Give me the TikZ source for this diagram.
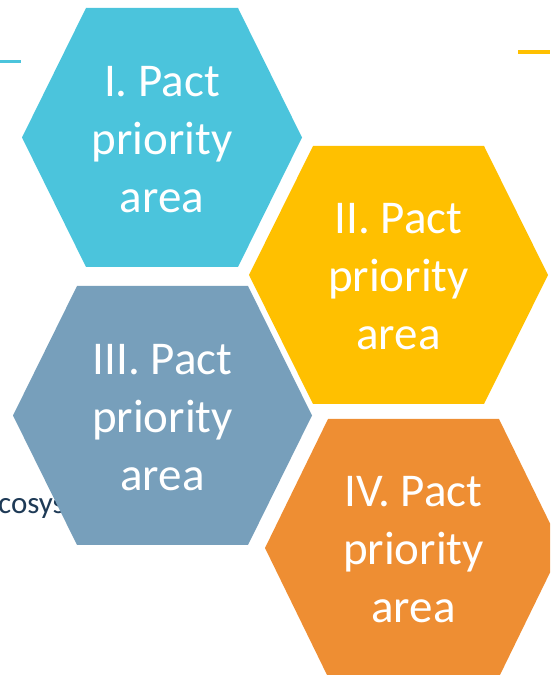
\documentclass[tikz,border=0pt]{standalone}
\usepackage{fontspec}
\setmainfont{Carlito}
\definecolor{hexcyan}{HTML}{4BC4DC}
\definecolor{hexyellow}{HTML}{FFC000}
\definecolor{hexblue}{HTML}{779FBB}
\definecolor{hexorange}{HTML}{EE8E33}
\definecolor{darktext}{HTML}{1E3A56}
\tikzset{
  hextext/.style={text=white, align=center, font=\fontsize{47}{58}\selectfont, inner sep=0pt},
  accentline/.style={line width=3.2pt, line cap=butt}
}
\begin{document}
\begin{tikzpicture}[x=1pt,y=1pt]
\useasboundingbox (0,0) rectangle (550,675);
\clip (0,0) rectangle (550,675);
% accent lines (y measured from top)
\coordinate (c1a) at (0,{675-61.5});
\coordinate (c1b) at (21,{675-61.5});
\draw[accentline, hexcyan] (c1a) -- (c1b);
\coordinate (c2a) at (518,{675-52});
\coordinate (c2b) at (550,{675-52});
\draw[accentline, hexyellow] (c2a) -- (c2b);
% partially hidden body text
\node[anchor=base west, inner sep=0pt, text=darktext, font=\fontsize{31}{37}\selectfont] (eco) at (-2,{675-514}) {cosystem};
% hexagon I
\fill[hexcyan] (22,{675-137.5}) -- (86,{675-8}) -- (238,{675-8}) -- (302,{675-137.5}) -- (238,{675-267}) -- (86,{675-267}) -- cycle;
\node[hextext] (h1) at (162,{675-139.5}) {I. Pact\\priority\\area};
% hexagon II
\fill[hexyellow] (249,{675-275}) -- (313,{675-146}) -- (484,{675-146}) -- (548,{675-275}) -- (484,{675-404}) -- (313,{675-404}) -- cycle;
\node[hextext] (h2) at (398.5,{675-277}) {II. Pact\\priority\\area};
% hexagon III
\fill[hexblue] (13,{675-415.5}) -- (77,{675-286}) -- (248,{675-286}) -- (312,{675-415.5}) -- (248,{675-545}) -- (77,{675-545}) -- cycle;
\node[hextext] (h3) at (162.5,{675-417.5}) {III. Pact\\priority\\area};
% hexagon IV
\fill[hexorange] (265,{675-548}) -- (328,{675-419}) -- (499,{675-419}) -- (562,{675-548}) -- (499,{675-677}) -- (328,{675-677}) -- cycle;
\node[hextext] (h4) at (413.5,{675-550}) {IV. Pact\\priority\\area};
\end{tikzpicture}
\end{document}
